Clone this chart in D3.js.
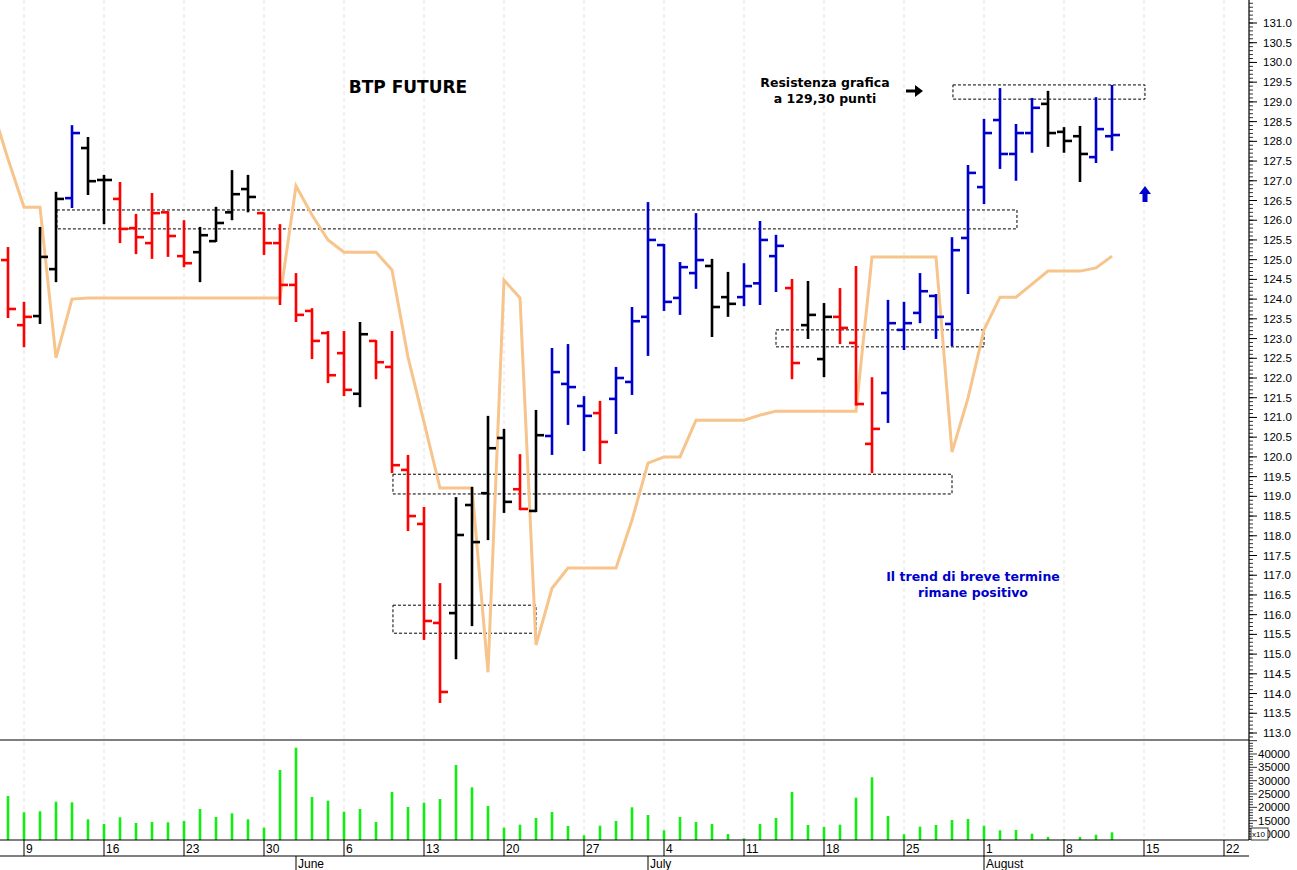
<!DOCTYPE html>
<html>
<head>
<meta charset="utf-8">
<script src="https://cdn.jsdelivr.net/npm/d3@7"></script>
<style>
  body { margin: 0; background: #fff; }
  text { font-family: "Liberation Sans", Arial, sans-serif; }
  .note { font-family: "DejaVu Sans", Verdana, sans-serif; font-weight: bold; }
</style>
</head>
<body>
<svg id="chart" width="1297" height="870"></svg>
<script>
// --- data (index 1 = 6 May 2011, one per trading day) ---
const opens  = [124.99,123.34,123.57,124.76,126.56,127.83,127.02,126.54,125.8,125.42,126.2,125.09,125.19,125.47,126.2,126.79,126.18,125.42,124.36,123.7,123.14,122.63,121.6,122.94,122.28,119.67,118.3,115.79,116.04,118.78,119.08,120.48,119.18,118.63,120.53,121.85,121.29,121.11,121.47,121.9,123.55,125.37,124.03,124.66,124.84,124.05,124.05,124.4,125.09,124.28,123.34,122.48,123.55,122.89,120.33,121.62,123.22,123.65,124.08,123.37,125.55,126.84,128.54,127.68,128.21,128.95,128.24,128.13,127.6,128.13];
const highs  = [125.32,123.93,125.83,126.72,128.41,128.11,127.15,126.97,126.16,126.69,126.23,126.0,125.83,126.34,127.27,127.15,126.2,125.9,124.66,123.77,123.19,123.19,123.42,122.96,123.19,120.05,118.73,116.8,118.98,119.24,121.04,120.71,120.07,121.19,122.76,122.86,121.54,121.42,122.28,123.8,126.46,125.4,124.94,126.18,125.02,124.69,124.91,125.98,125.63,124.51,124.46,123.9,124.28,124.84,122.02,123.98,123.93,124.66,124.13,125.57,127.4,128.57,129.35,128.44,129.1,129.28,128.36,128.39,129.12,129.43];
const lows   = [123.52,122.78,123.37,124.43,126.31,126.64,125.9,125.42,125.14,125.02,125.07,124.81,124.43,125.45,126.0,126.2,125.12,123.85,123.42,122.48,121.87,121.54,121.26,121.97,119.59,118.12,115.36,113.76,114.87,115.71,117.89,118.58,118.65,118.6,120.05,120.81,120.15,119.82,120.58,121.57,122.56,123.7,123.6,124.26,123.04,123.55,123.82,123.85,124.18,121.97,122.99,122.02,122.86,121.3,119.59,120.86,122.71,123.39,122.99,122.81,124.13,126.41,127.3,127.0,127.71,127.86,127.71,126.97,127.45,127.76];
const closes = [123.75,123.55,125.07,126.54,128.21,126.99,127.02,125.78,125.57,126.18,125.6,124.91,125.62,125.93,126.66,126.59,125.42,124.36,123.6,122.94,122.07,121.7,123.11,122.4,119.79,118.5,115.84,114.04,118.02,117.84,120.22,118.86,118.68,120.55,122.15,121.77,121.04,120.38,122.0,123.44,125.5,123.93,124.81,124.99,123.8,123.88,124.33,125.5,125.35,122.38,123.6,123.55,123.27,121.34,120.71,123.39,123.39,124.2,123.55,125.24,127.2,128.21,127.68,128.21,128.85,128.21,128.01,127.68,128.31,128.16];
const barColors = "rrkkbkkrrrrrkkkkrrrrrrkrrrrrkkkkrkbbbrbbbbbbkkbbbrkkrrrbbbbbbbbbbkkkbb";
// trend line, index 0..70
const trendLine = [128.87,127.55,126.33,126.33,122.51,124.0,124.03,124.03,124.03,124.03,124.03,124.03,124.03,124.03,124.03,124.03,124.03,124.03,124.03,126.87,126.13,125.5,125.19,125.19,125.19,124.74,122.53,120.88,119.21,119.21,119.21,114.54,124.48,124.03,115.23,116.67,117.18,117.18,117.18,117.18,118.4,119.84,120.0,120.0,120.93,120.93,120.93,120.93,121.06,121.16,121.16,121.16,121.16,121.16,121.16,125.07,125.07,125.07,125.07,125.07,120.12,121.49,123.22,124.05,124.05,124.38,124.71,124.71,124.71,124.79,125.09];
const volumes = [24260,18150,18520,22120,21900,15520,13760,16270,14140,14510,14400,14890,19390,16390,17770,15520,12370,34010,42370,23890,22500,18370,19390,14510,25760,20140,21750,23140,35880,27520,20510,12370,13500,16010,18260,13010,9520,13130,14890,20020,17140,11400,16390,14510,13760,10010,8400,13760,16010,25760,13390,12640,13500,23620,31270,16760,9900,12750,13390,15260,15640,13130,11400,11510,10120,8890,8140,8890,9750,10650];
// dashed zones: [from index, to index, low, high]
const zones = [[4.06,64.06,125.78,126.26],[60.06,72.06,129.07,129.43],[49,62,122.79,123.22],[25.06,60,119.06,119.56],[25.06,34,115.53,116.24]];
const priceTicks = d3.range(113, 131.01, 0.5);
const volumeTicks = [10000,15000,20000,25000,30000,35000,40000];
const monthNames = ["January","February","March","April","May","June","July","August","September"];

const colorMap = { r: "#ff0000", k: "#000000", b: "#0000cc" };
const W = 1297, axisX = 1249, priceBottom = 740, volBottom = 840;

// trading days from 6 May 2011
const days = [];
for (let d = new Date(2011, 4, 6); days.length < 80; d = d3.timeDay.offset(d, 1)) {
  if (d.getDay() !== 0 && d.getDay() !== 6) days.push(new Date(d));
}

const x = d3.scaleLinear().domain([1, 72]).range([8, 1144]);
const y = d3.scaleLinear().domain([113, 131]).range([733, 23]);
const yv = d3.scaleLinear().domain([0, 40000]).range([860.7, 754]);

const svg = d3.select("#chart");
svg.append("rect").attr("width", W).attr("height", 870).attr("fill", "#fff");

const defs = svg.append("defs");
defs.append("clipPath").attr("id", "clipP").append("rect")
  .attr("x", 0).attr("y", 0).attr("width", axisX).attr("height", priceBottom);

// vertical dashed grid on Mondays
const mondays = days.map((d, i) => ({ d, i: i + 1 }))
  .filter(o => o.d.getDay() === 1 && x(o.i) < axisX);
svg.append("g").selectAll("line").data(mondays).join("line")
  .attr("x1", o => x(o.i)).attr("x2", o => x(o.i))
  .attr("y1", 0).attr("y2", volBottom)
  .attr("stroke", "#e2e2e2").attr("stroke-dasharray", "4,3");

const price = svg.append("g").attr("clip-path", "url(#clipP)");

// zones
price.selectAll("rect.zone").data(zones).join("rect")
  .attr("x", z => x(z[0])).attr("width", z => x(z[1]) - x(z[0]))
  .attr("y", z => y(z[3])).attr("height", z => y(z[2]) - y(z[3]))
  .attr("fill", "none").attr("stroke", "#000").attr("stroke-width", 1)
  .attr("stroke-dasharray", "3,2");

// trend line
price.append("path").datum(trendLine)
  .attr("d", d3.line().x((v, i) => x(i)).y(v => y(v)))
  .attr("fill", "none").attr("stroke", "#f7c48c").attr("stroke-width", 3);

// OHLC bars
const bars = price.append("g").selectAll("g").data(opens.map((o, i) => i)).join("g")
  .attr("stroke", i => colorMap[barColors[i]]).attr("stroke-width", 2.6);
bars.append("line").attr("x1", i => x(i + 1)).attr("x2", i => x(i + 1))
  .attr("y1", i => y(highs[i])).attr("y2", i => y(lows[i]));
bars.append("line").attr("x1", i => x(i + 1) - 7).attr("x2", i => x(i + 1))
  .attr("y1", i => y(opens[i])).attr("y2", i => y(opens[i]));
bars.append("line").attr("x1", i => x(i + 1)).attr("x2", i => x(i + 1) + 8)
  .attr("y1", i => y(closes[i])).attr("y2", i => y(closes[i]));

// volume
svg.append("g").selectAll("line").data(volumes).join("line")
  .attr("x1", (v, i) => x(i + 1)).attr("x2", (v, i) => x(i + 1))
  .attr("y1", volBottom).attr("y2", v => yv(v))
  .attr("stroke", "#11ee11").attr("stroke-width", 2.6);

// frame lines
const frame = svg.append("g").attr("stroke", "#000").attr("stroke-width", 1.2);
frame.append("line").attr("x1", axisX).attr("x2", axisX).attr("y1", 0).attr("y2", volBottom);
frame.append("line").attr("x1", 0).attr("x2", axisX).attr("y1", priceBottom).attr("y2", priceBottom);
frame.append("line").attr("x1", 0).attr("x2", axisX).attr("y1", volBottom).attr("y2", volBottom);
frame.append("line").attr("x1", 0).attr("x2", axisX).attr("y1", 856).attr("y2", 856);

// price axis
const minor = d3.range(112.9, 131.55, 0.1);
svg.append("g").selectAll("line").data(minor).join("line")
  .attr("x1", axisX).attr("x2", axisX + 4).attr("y1", v => y(v)).attr("y2", v => y(v))
  .attr("stroke", "#000").attr("stroke-width", 0.8);
const pt = svg.append("g");
pt.selectAll("line").data(priceTicks).join("line")
  .attr("x1", axisX).attr("x2", axisX + 8).attr("y1", v => y(v)).attr("y2", v => y(v))
  .attr("stroke", "#000");
pt.selectAll("text").data(priceTicks).join("text")
  .attr("x", 1263).attr("y", v => y(v) + 4).attr("font-size", 11.5)
  .text(d3.format(".1f"));

// volume axis
svg.append("g").selectAll("line").data(d3.range(8000, 45001, 1000)).join("line")
  .attr("x1", axisX).attr("x2", v => axisX + (v % 5000 === 0 ? 8 : 4))
  .attr("y1", v => yv(v)).attr("y2", v => yv(v))
  .attr("stroke", "#000").attr("stroke-width", 0.8);
svg.append("g").selectAll("text").data(volumeTicks).join("text")
  .attr("x", 1258).attr("y", v => yv(v) + 4).attr("font-size", 11.5)
  .text(v => v);
svg.append("rect").attr("x", 1251).attr("y", 828).attr("width", 17).attr("height", 12)
  .attr("fill", "#fff").attr("stroke", "#000").attr("stroke-width", 0.8);
svg.append("text").attr("x", 1252).attr("y", 837).attr("font-size", 8).text("x10");

// date axis
const dayTicks = svg.append("g").selectAll("g").data(mondays).join("g");
dayTicks.append("line").attr("x1", o => x(o.i)).attr("x2", o => x(o.i))
  .attr("y1", volBottom).attr("y2", 856).attr("stroke", "#000");
dayTicks.append("text").attr("x", o => x(o.i) + 2).attr("y", 853).attr("font-size", 12)
  .text(o => o.d.getDate());
const monthStarts = days.map((d, i) => ({ d, i: i + 1 }))
  .filter((o, k, a) => k > 0 && o.d.getMonth() !== a[k - 1].d.getMonth() && o.i < 72);
const mt = svg.append("g").selectAll("g").data(monthStarts).join("g");
mt.append("line").attr("x1", o => x(o.i)).attr("x2", o => x(o.i))
  .attr("y1", 856).attr("y2", 870).attr("stroke", "#000");
mt.append("text").attr("x", o => x(o.i) + 2).attr("y", 868).attr("font-size", 12)
  .text(o => monthNames[o.d.getMonth()]);

// annotations
svg.append("text").attr("class", "note").attr("x", 408).attr("y", 93)
  .attr("text-anchor", "middle").attr("font-size", 17).text("BTP FUTURE");
const res = svg.append("text").attr("class", "note").attr("text-anchor", "middle").attr("font-size", 12.5);
res.append("tspan").attr("x", 825).attr("y", 87).text("Resistenza grafica");
res.append("tspan").attr("x", 825).attr("y", 103).text("a 129,30 punti");
svg.append("path").attr("d", "M906,89.5 L915,89.5 L915,85 L923,91 L915,97 L915,92.5 L906,92.5 Z")
  .attr("fill", "#000");
svg.append("path").attr("d", "M1145,186 L1151,194 L1147.5,194 L1147.5,202 L1142.5,202 L1142.5,194 L1139,194 Z")
  .attr("fill", "#0000cc");
const tr = svg.append("text").attr("class", "note").attr("text-anchor", "middle")
  .attr("font-size", 12.5).attr("fill", "#0000cc");
tr.append("tspan").attr("x", 973).attr("y", 581).text("Il trend di breve termine");
tr.append("tspan").attr("x", 973).attr("y", 597).text("rimane positivo");
</script>
</body>
</html>
